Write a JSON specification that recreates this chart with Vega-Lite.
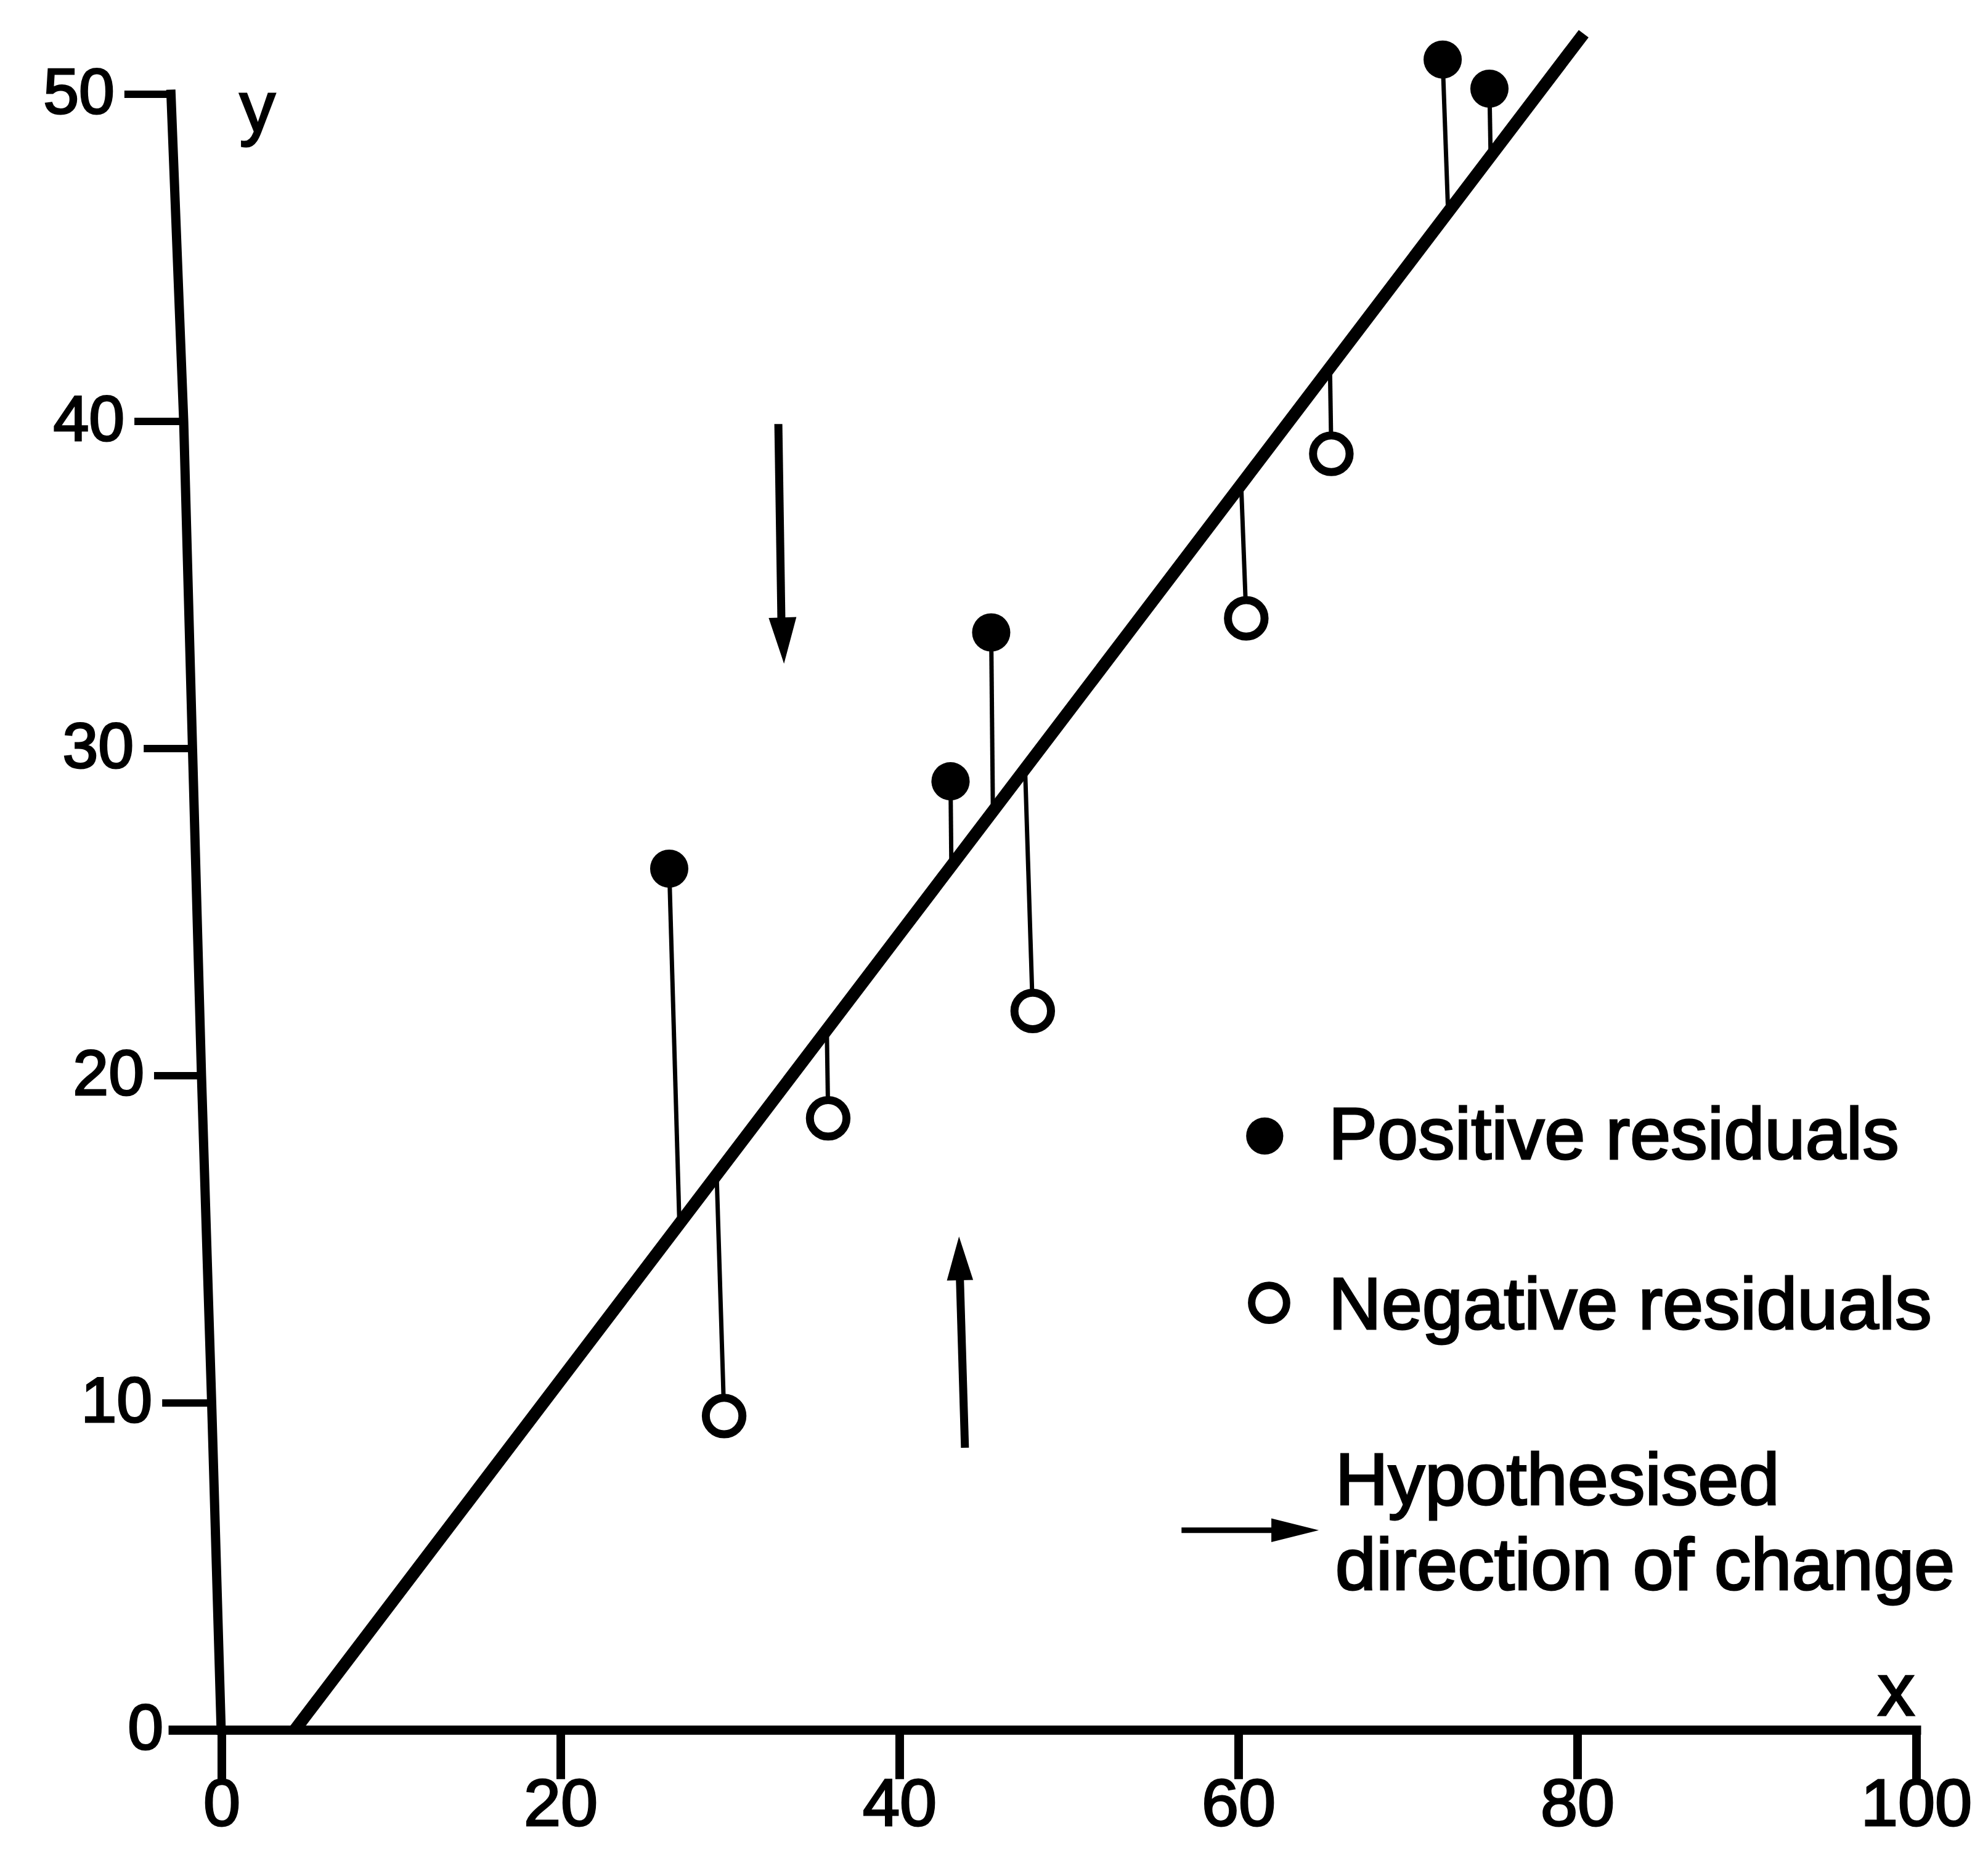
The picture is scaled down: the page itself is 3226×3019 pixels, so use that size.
{
  "$schema": "https://vega.github.io/schema/vega-lite/v6.json",
  "width": 3226,
  "height": 3019,
  "autosize": "none",
  "padding": 0,
  "background": "white",
  "config": {"view": {"stroke": null}, "font": "Liberation Sans", "text": {"stroke": "black", "strokeWidth": 3}},
  "datasets": {
    "obs": [
      {"x": 26.4, "y": 26.33, "xf": 27.0, "yf": 15.47, "sign": "positive"},
      {"x": 29.64, "y": 9.6, "xf": 29.2, "yf": 16.97, "sign": "negative"},
      {"x": 35.78, "y": 18.7, "xf": 35.7, "yf": 21.4, "sign": "negative"},
      {"x": 43.0, "y": 29.0, "xf": 43.05, "yf": 26.4, "sign": "positive"},
      {"x": 45.4, "y": 33.55, "xf": 45.5, "yf": 28.09, "sign": "positive"},
      {"x": 47.85, "y": 21.98, "xf": 47.4, "yf": 29.38, "sign": "negative"},
      {"x": 60.45, "y": 33.98, "xf": 60.15, "yf": 38.07, "sign": "negative"},
      {"x": 65.47, "y": 39.01, "xf": 65.39, "yf": 41.65, "sign": "negative"},
      {"x": 72.04, "y": 51.06, "xf": 72.36, "yf": 46.4, "sign": "positive"},
      {"x": 74.8, "y": 50.17, "xf": 74.87, "yf": 48.1, "sign": "positive"}
    ],
    "fit": [{"x": 4.3, "y": 0}, {"x": 80.36, "y": 51.85}],
    "xticks": [{"v": 0}, {"v": 20}, {"v": 40}, {"v": 60}, {"v": 80}, {"v": 100}],
    "yticks": [
      {"v": 0, "xa": -0.04, "xt": -2.87},
      {"v": 10, "xa": -0.6, "xt": -3.52},
      {"v": 20, "xa": -1.2, "xt": -4.0},
      {"v": 30, "xa": -1.73, "xt": -4.61},
      {"v": 40, "xa": -2.25, "xt": -5.16},
      {"v": 50, "xa": -3.0, "xt": -5.75}
    ]
  },
  "layer": [
    {
      "data": {"name": "yticks"},
      "mark": {"type": "line", "color": "black", "strokeWidth": 15, "strokeCap": "square"},
      "encoding": {
        "x": {"field": "xa", "type": "quantitative", "scale": {"domain": [-13.09, 104.22], "nice": false, "zero": false}, "axis": null},
        "y": {"field": "v", "type": "quantitative", "scale": {"domain": [-3.97, 52.88], "nice": false, "zero": false}, "axis": null},
        "order": {"field": "v"}
      }
    },
    {
      "data": {"name": "yticks"},
      "mark": {"type": "rule", "color": "black", "strokeWidth": 12},
      "encoding": {
        "x": {"field": "xt", "type": "quantitative", "scale": {"domain": [-13.09, 104.22], "nice": false, "zero": false}, "axis": null},
        "x2": {"field": "xa"},
        "y": {"field": "v", "type": "quantitative", "scale": {"domain": [-3.97, 52.88], "nice": false, "zero": false}, "axis": null}
      }
    },
    {
      "data": {"values": [{}]},
      "mark": {"type": "rule", "color": "black", "strokeWidth": 15, "strokeCap": "square"},
      "encoding": {
        "x": {"datum": -2.87, "type": "quantitative", "scale": {"domain": [-13.09, 104.22], "nice": false, "zero": false}, "axis": null},
        "x2": {"datum": 100},
        "y": {"datum": 0, "type": "quantitative", "scale": {"domain": [-3.97, 52.88], "nice": false, "zero": false}, "axis": null}
      }
    },
    {
      "data": {"name": "xticks"},
      "mark": {"type": "rule", "color": "black", "strokeWidth": 14},
      "encoding": {
        "x": {"field": "v", "type": "quantitative", "scale": {"domain": [-13.09, 104.22], "nice": false, "zero": false}, "axis": null},
        "y": {"datum": 0, "type": "quantitative", "scale": {"domain": [-3.97, 52.88], "nice": false, "zero": false}, "axis": null},
        "y2": {"datum": -1.5}
      }
    },
    {
      "data": {"name": "yticks"},
      "mark": {"type": "text", "color": "black", "fontSize": 104, "align": "right", "baseline": "middle", "dx": -16},
      "encoding": {
        "x": {"field": "xt", "type": "quantitative", "scale": {"domain": [-13.09, 104.22], "nice": false, "zero": false}, "axis": null},
        "y": {"field": "v", "type": "quantitative", "scale": {"domain": [-3.97, 52.88], "nice": false, "zero": false}, "axis": null},
        "text": {"field": "v", "type": "quantitative"}
      }
    },
    {
      "data": {"name": "xticks"},
      "mark": {"type": "text", "color": "black", "fontSize": 108, "align": "center", "baseline": "alphabetic"},
      "encoding": {
        "x": {"field": "v", "type": "quantitative", "scale": {"domain": [-13.09, 104.22], "nice": false, "zero": false}, "axis": null},
        "y": {"datum": -2.92, "type": "quantitative", "scale": {"domain": [-3.97, 52.88], "nice": false, "zero": false}, "axis": null},
        "text": {"field": "v", "type": "quantitative"}
      }
    },
    {
      "data": {"values": [{"label": "y"}]},
      "mark": {"type": "text", "color": "black", "fontSize": 116, "align": "center", "baseline": "alphabetic"},
      "encoding": {
        "x": {"datum": 2.1, "type": "quantitative", "scale": {"domain": [-13.09, 104.22], "nice": false, "zero": false}, "axis": null},
        "y": {"datum": 48.85, "type": "quantitative", "scale": {"domain": [-3.97, 52.88], "nice": false, "zero": false}, "axis": null},
        "text": {"field": "label"}
      }
    },
    {
      "data": {"values": [{"label": "x"}]},
      "mark": {"type": "text", "color": "black", "fontSize": 120, "align": "center", "baseline": "alphabetic"},
      "encoding": {
        "x": {"datum": 98.8, "type": "quantitative", "scale": {"domain": [-13.09, 104.22], "nice": false, "zero": false}, "axis": null},
        "y": {"datum": 0.45, "type": "quantitative", "scale": {"domain": [-3.97, 52.88], "nice": false, "zero": false}, "axis": null},
        "text": {"field": "label"}
      }
    },
    {
      "data": {"name": "obs"},
      "mark": {"type": "rule", "color": "black", "strokeWidth": 7},
      "encoding": {
        "x": {"field": "x", "type": "quantitative", "scale": {"domain": [-13.09, 104.22], "nice": false, "zero": false}, "axis": null},
        "y": {"field": "y", "type": "quantitative", "scale": {"domain": [-3.97, 52.88], "nice": false, "zero": false}, "axis": null},
        "x2": {"field": "xf"},
        "y2": {"field": "yf"}
      }
    },
    {
      "data": {"name": "fit"},
      "mark": {"type": "line", "color": "black", "strokeWidth": 20, "strokeCap": "butt"},
      "encoding": {
        "x": {"field": "x", "type": "quantitative", "scale": {"domain": [-13.09, 104.22], "nice": false, "zero": false}, "axis": null},
        "y": {"field": "y", "type": "quantitative", "scale": {"domain": [-3.97, 52.88], "nice": false, "zero": false}, "axis": null}
      }
    },
    {
      "data": {"values": [{}]},
      "mark": {"type": "rule", "color": "black", "strokeWidth": 13},
      "encoding": {
        "x": {"datum": 32.84, "type": "quantitative", "scale": {"domain": [-13.09, 104.22], "nice": false, "zero": false}, "axis": null},
        "y": {"datum": 39.92, "type": "quantitative", "scale": {"domain": [-3.97, 52.88], "nice": false, "zero": false}, "axis": null},
        "x2": {"datum": 33.02},
        "y2": {"datum": 33.9}
      }
    },
    {
      "data": {"values": [{}]},
      "mark": {"type": "point", "shape": "M-0.6,-1L0.6,-1L0,1Z", "size": 5625, "angle": 358.2, "filled": true, "color": "black", "opacity": 1},
      "encoding": {
        "x": {"datum": 33.13, "type": "quantitative", "scale": {"domain": [-13.09, 104.22], "nice": false, "zero": false}, "axis": null},
        "y": {"datum": 33.3, "type": "quantitative", "scale": {"domain": [-3.97, 52.88], "nice": false, "zero": false}, "axis": null}
      }
    },
    {
      "data": {"values": [{}]},
      "mark": {"type": "rule", "color": "black", "strokeWidth": 13},
      "encoding": {
        "x": {"datum": 43.85, "type": "quantitative", "scale": {"domain": [-13.09, 104.22], "nice": false, "zero": false}, "axis": null},
        "y": {"datum": 8.63, "type": "quantitative", "scale": {"domain": [-3.97, 52.88], "nice": false, "zero": false}, "axis": null},
        "x2": {"datum": 43.55},
        "y2": {"datum": 13.85}
      }
    },
    {
      "data": {"values": [{}]},
      "mark": {"type": "point", "shape": "M-0.6,1L0.6,1L0,-1Z", "size": 5041, "angle": 358.7, "filled": true, "color": "black", "opacity": 1},
      "encoding": {
        "x": {"datum": 43.53, "type": "quantitative", "scale": {"domain": [-13.09, 104.22], "nice": false, "zero": false}, "axis": null},
        "y": {"datum": 14.42, "type": "quantitative", "scale": {"domain": [-3.97, 52.88], "nice": false, "zero": false}, "axis": null}
      }
    },
    {
      "data": {"name": "obs"},
      "transform": [{"filter": "datum.sign === 'positive'"}],
      "mark": {"type": "point", "shape": "circle", "filled": true, "color": "black", "opacity": 1, "size": 3848},
      "encoding": {
        "x": {"field": "x", "type": "quantitative", "scale": {"domain": [-13.09, 104.22], "nice": false, "zero": false}, "axis": null},
        "y": {"field": "y", "type": "quantitative", "scale": {"domain": [-3.97, 52.88], "nice": false, "zero": false}, "axis": null}
      }
    },
    {
      "data": {"name": "obs"},
      "transform": [{"filter": "datum.sign === 'negative'"}],
      "mark": {"type": "point", "shape": "circle", "fill": "white", "stroke": "black", "strokeWidth": 13, "opacity": 1, "fillOpacity": 1, "size": 3526},
      "encoding": {
        "x": {"field": "x", "type": "quantitative", "scale": {"domain": [-13.09, 104.22], "nice": false, "zero": false}, "axis": null},
        "y": {"field": "y", "type": "quantitative", "scale": {"domain": [-3.97, 52.88], "nice": false, "zero": false}, "axis": null}
      }
    },
    {
      "data": {"values": [{}]},
      "mark": {"type": "point", "shape": "circle", "filled": true, "color": "black", "opacity": 1, "size": 3630},
      "encoding": {
        "x": {"datum": 61.54, "type": "quantitative", "scale": {"domain": [-13.09, 104.22], "nice": false, "zero": false}, "axis": null},
        "y": {"datum": 18.16, "type": "quantitative", "scale": {"domain": [-3.97, 52.88], "nice": false, "zero": false}, "axis": null}
      }
    },
    {
      "data": {"values": [{}]},
      "mark": {"type": "point", "shape": "circle", "fill": "white", "stroke": "black", "strokeWidth": 12, "opacity": 1, "fillOpacity": 1, "size": 3217},
      "encoding": {
        "x": {"datum": 61.8, "type": "quantitative", "scale": {"domain": [-13.09, 104.22], "nice": false, "zero": false}, "axis": null},
        "y": {"datum": 13.06, "type": "quantitative", "scale": {"domain": [-3.97, 52.88], "nice": false, "zero": false}, "axis": null}
      }
    },
    {
      "data": {"values": [{}]},
      "mark": {"type": "rule", "color": "black", "strokeWidth": 9},
      "encoding": {
        "x": {"datum": 56.63, "type": "quantitative", "scale": {"domain": [-13.09, 104.22], "nice": false, "zero": false}, "axis": null},
        "y": {"datum": 6.11, "type": "quantitative", "scale": {"domain": [-3.97, 52.88], "nice": false, "zero": false}, "axis": null},
        "x2": {"datum": 62.1}
      }
    },
    {
      "data": {"values": [{}]},
      "mark": {"type": "point", "shape": "M-1,-0.5L1,0L-1,0.5Z", "size": 5929, "filled": true, "color": "black", "opacity": 1},
      "encoding": {
        "x": {"datum": 63.33, "type": "quantitative", "scale": {"domain": [-13.09, 104.22], "nice": false, "zero": false}, "axis": null},
        "y": {"datum": 6.11, "type": "quantitative", "scale": {"domain": [-3.97, 52.88], "nice": false, "zero": false}, "axis": null}
      }
    },
    {
      "data": {"values": [{"label": "Positive residuals"}]},
      "mark": {"type": "text", "color": "black", "fontSize": 119, "align": "left", "baseline": "alphabetic"},
      "encoding": {
        "x": {"datum": 65.3, "type": "quantitative", "scale": {"domain": [-13.09, 104.22], "nice": false, "zero": false}, "axis": null},
        "y": {"datum": 17.45, "type": "quantitative", "scale": {"domain": [-3.97, 52.88], "nice": false, "zero": false}, "axis": null},
        "text": {"field": "label"}
      }
    },
    {
      "data": {"values": [{"label": "Negative residuals"}]},
      "mark": {"type": "text", "color": "black", "fontSize": 119, "align": "left", "baseline": "alphabetic"},
      "encoding": {
        "x": {"datum": 65.3, "type": "quantitative", "scale": {"domain": [-13.09, 104.22], "nice": false, "zero": false}, "axis": null},
        "y": {"datum": 12.27, "type": "quantitative", "scale": {"domain": [-3.97, 52.88], "nice": false, "zero": false}, "axis": null},
        "text": {"field": "label"}
      }
    },
    {
      "data": {"values": [{"label": "Hypothesised"}]},
      "mark": {"type": "text", "color": "black", "fontSize": 119, "align": "left", "baseline": "alphabetic"},
      "encoding": {
        "x": {"datum": 65.7, "type": "quantitative", "scale": {"domain": [-13.09, 104.22], "nice": false, "zero": false}, "axis": null},
        "y": {"datum": 6.89, "type": "quantitative", "scale": {"domain": [-3.97, 52.88], "nice": false, "zero": false}, "axis": null},
        "text": {"field": "label"}
      }
    },
    {
      "data": {"values": [{"label": "direction of change"}]},
      "mark": {"type": "text", "color": "black", "fontSize": 119, "align": "left", "baseline": "alphabetic"},
      "encoding": {
        "x": {"datum": 65.7, "type": "quantitative", "scale": {"domain": [-13.09, 104.22], "nice": false, "zero": false}, "axis": null},
        "y": {"datum": 4.3, "type": "quantitative", "scale": {"domain": [-3.97, 52.88], "nice": false, "zero": false}, "axis": null},
        "text": {"field": "label"}
      }
    }
  ]
}
